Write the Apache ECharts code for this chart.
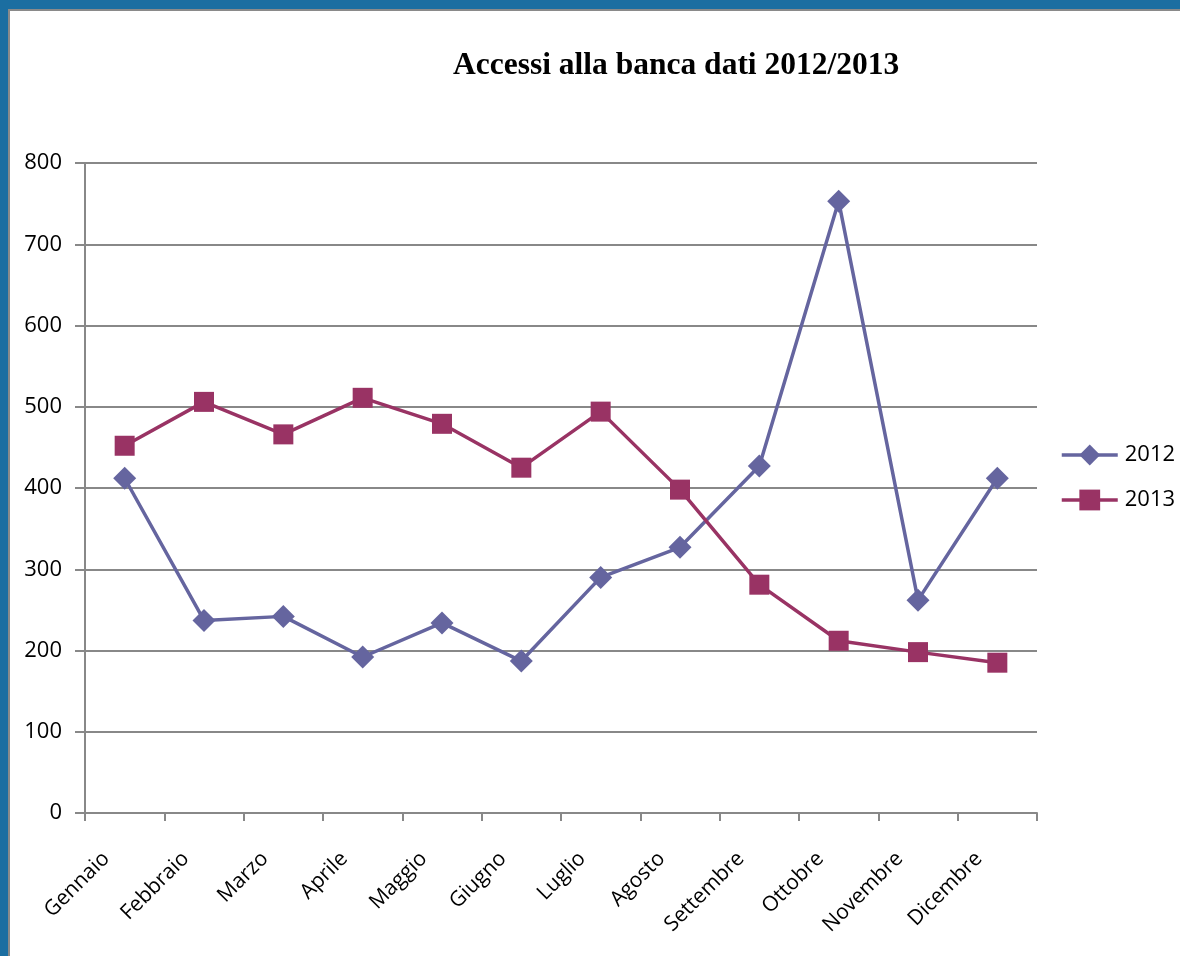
<!DOCTYPE html>
<html>
<head>
<meta charset="utf-8">
<script src="https://cdn.jsdelivr.net/npm/echarts@6/dist/echarts.min.js"></script>
<style>
html,body{margin:0;padding:0;width:1180px;height:956px;background:#1b6ea1;overflow:hidden;}
#frame{position:absolute;left:8px;top:9px;width:1172px;height:947px;background:#fff;border-left:2px solid #8a8a8a;border-top:2px solid #8a8a8a;box-sizing:border-box;}
#chart{position:absolute;left:0;top:0;width:1170px;height:945px;}
</style>
</head>
<body>
<div id="frame"><div id="chart"></div></div>
<script>
const categories = ['Gennaio','Febbraio','Marzo','Aprile','Maggio','Giugno','Luglio','Agosto','Settembre','Ottobre','Novembre','Dicembre'];
const values2012 = [412, 237, 242, 192, 234, 187, 290, 327, 427, 753, 262, 412];
const values2013 = [452, 506, 466, 511, 479, 425, 494, 398, 281, 212, 198, 185];
const yTicks = [0, 100, 200, 300, 400, 500, 600, 700, 800];

const chart = echarts.init(document.getElementById('chart'));
chart.setOption({
  animation: false,
  backgroundColor: '#fff',
  title: {
    text: 'Accessi alla banca dati 2012/2013',
    left: 438, top: 34,
    textStyle: {fontFamily: 'Liberation Serif', fontWeight: 'bold', fontSize: 31.5, color: '#000'}
  },
  legend: {
    orient: 'vertical', left: 1045, top: 428,
    itemWidth: 56, itemHeight: 26, itemGap: 23,
    lineStyle: {width: 3.5},
    textStyle: {fontFamily: 'Open Sans', fontSize: 22, color: '#000', padding: [0,0,0,2]},
    data: ['2012','2013']
  },
  grid: {left: 75, top: 152, right: 143, bottom: 143, containLabel: false},
  xAxis: {
    type: 'category', data: categories, boundaryGap: true,
    axisLine: {lineStyle: {color: '#888', width: 2}},
    axisTick: {show: true, length: 8, lineStyle: {color: '#888', width: 2}},
    axisLabel: {rotate: 45, margin: 24, padding: [0, 26, 0, 0], fontFamily: 'Open Sans', fontSize: 21, color: '#000'},
    splitLine: {show: false}
  },
  yAxis: {
    type: 'value', min: yTicks[0], max: yTicks[yTicks.length-1], interval: 100,
    axisLine: {show: true, lineStyle: {color: '#888', width: 2}},
    axisTick: {show: true, length: 10, lineStyle: {color: '#888', width: 2}},
    axisLabel: {margin: 23, fontFamily: 'Open Sans', fontSize: 22, color: '#000'},
    splitLine: {lineStyle: {color: '#888', width: 2}}
  },
  series: [
    {
      name: '2012', type: 'line', data: values2012,
      symbol: 'diamond', symbolSize: 23,
      lineStyle: {color: '#65659f', width: 3.5},
      itemStyle: {color: '#65659f'}
    },
    {
      name: '2013', type: 'line', data: values2013,
      symbol: 'rect', symbolSize: 20,
      lineStyle: {color: '#993364', width: 3.5},
      itemStyle: {color: '#993364'}
    }
  ]
});
</script>
</body>
</html>
